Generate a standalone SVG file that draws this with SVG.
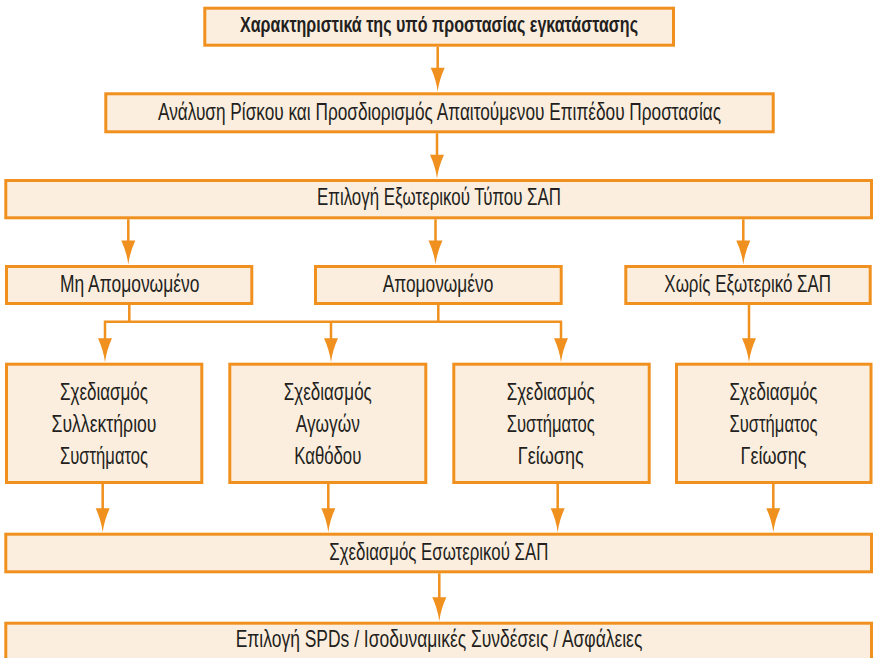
<svg xmlns="http://www.w3.org/2000/svg" xmlns:xlink="http://www.w3.org/1999/xlink" width="873" height="658" viewBox="0 0 873 658">
<style>
.box{fill:#FCEEDF;stroke:#F0901E;stroke-width:3}
.t{font-family:"Liberation Sans Narrow","Liberation Sans",Arial,sans-serif;font-size:24px;fill:#231F20;text-anchor:middle}
.tb{font-weight:bold;font-size:22px}
.ln{fill:none;stroke:#F0901E;stroke-width:2.5}
.head{fill:#F0901E;stroke:none}
</style>
<defs>
<path id="ah" class="head" d="M-7,-24 L7,-24 Q1.5,-12 0,0 Q-1.5,-12 -7,-24 Z"/>
</defs>
<rect width="873" height="658" fill="#FFFFFF"/>
<g id="n1"><rect class="box" x="204.8" y="8.2" width="468.7" height="37"/><text class="t tb" x="439" y="31.7" textLength="398" lengthAdjust="spacingAndGlyphs">Χαρακτηριστικά της υπό προστασίας εγκατάστασης</text></g>
<g id="n2"><rect class="box" x="105.8" y="93.8" width="667.4" height="38"/><text class="t" x="439.5" y="119.5" textLength="563" lengthAdjust="spacingAndGlyphs">Ανάλυση Ρίσκου και Προσδιορισμός Απαιτούμενου Επιπέδου Προστασίας</text></g>
<g id="n3"><rect class="box" x="5.8" y="180.5" width="865.7" height="37.3"/><text class="t" x="439" y="205" textLength="244" lengthAdjust="spacingAndGlyphs">Επιλογή Εξωτερικού Τύπου ΣΑΠ</text></g>
<g id="n4"><rect class="box" x="6.5" y="266.5" width="245.3" height="37"/><text class="t" x="129.7" y="291.7" textLength="139.3" lengthAdjust="spacingAndGlyphs">Μη Απομονωμένο</text></g>
<g id="n5"><rect class="box" x="315.5" y="266.5" width="245.7" height="37"/><text class="t" x="438" y="291.7" textLength="110.6" lengthAdjust="spacingAndGlyphs">Απομονωμένο</text></g>
<g id="n6"><rect class="box" x="625.8" y="266.5" width="244.4" height="37"/><text class="t" x="747.7" y="291.7" textLength="166.7" lengthAdjust="spacingAndGlyphs">Χωρίς Εξωτερικό ΣΑΠ</text></g>
<g id="n7"><rect class="box" x="6.5" y="364.2" width="195.3" height="118.3"/>
<text class="t" x="104" y="399.5" textLength="88" lengthAdjust="spacingAndGlyphs">Σχεδιασμός</text>
<text class="t" x="104" y="431.5" textLength="105" lengthAdjust="spacingAndGlyphs">Συλλεκτήριου</text>
<text class="t" x="104" y="463.5" textLength="88" lengthAdjust="spacingAndGlyphs">Συστήματος</text></g>
<g id="n8"><rect class="box" x="229.8" y="364.2" width="196" height="118.3"/>
<text class="t" x="327.8" y="399.5" textLength="88" lengthAdjust="spacingAndGlyphs">Σχεδιασμός</text>
<text class="t" x="327.8" y="431.5" textLength="64" lengthAdjust="spacingAndGlyphs">Αγωγών</text>
<text class="t" x="327.8" y="463.5" textLength="67" lengthAdjust="spacingAndGlyphs">Καθόδου</text></g>
<g id="n9"><rect class="box" x="453.8" y="364.2" width="195.4" height="118.3"/>
<text class="t" x="550.7" y="399.5" textLength="88" lengthAdjust="spacingAndGlyphs">Σχεδιασμός</text>
<text class="t" x="550.7" y="431.5" textLength="88" lengthAdjust="spacingAndGlyphs">Συστήματος</text>
<text class="t" x="550.7" y="463.5" textLength="66" lengthAdjust="spacingAndGlyphs">Γείωσης</text></g>
<g id="n10"><rect class="box" x="676.5" y="364.2" width="194.5" height="118.3"/>
<text class="t" x="773.5" y="399.5" textLength="88" lengthAdjust="spacingAndGlyphs">Σχεδιασμός</text>
<text class="t" x="773.5" y="431.5" textLength="88" lengthAdjust="spacingAndGlyphs">Συστήματος</text>
<text class="t" x="773.5" y="463.5" textLength="66" lengthAdjust="spacingAndGlyphs">Γείωσης</text></g>
<g id="n11"><rect class="box" x="5.8" y="534.2" width="865.7" height="37.6"/><text class="t" x="438.8" y="560" textLength="219" lengthAdjust="spacingAndGlyphs">Σχεδιασμός Εσωτερικού ΣΑΠ</text></g>
<g id="n12"><rect class="box" x="5.8" y="623.2" width="865.7" height="40"/><text class="t" x="439" y="646.7" textLength="406.6" lengthAdjust="spacingAndGlyphs">Επιλογή SPDs / Ισοδυναμικές Συνδέσεις / Ασφάλειες</text></g>
<g id="connectors">
<path class="ln" d="M437.7,46.7V70 M437,133.3V157 M128.3,219.3V243 M435.5,219.3V243 M743.3,219.3V243 M129.3,305V321.7 M438.3,305V321.7 M103.8,321.7H562.2 M105,321.7V340 M331,321.7V340 M561,321.7V340 M749,305V340 M102.7,484V510 M328.3,484V510 M557.7,484V510 M773.3,484V510 M439.3,573.3V599"/>
<use href="#ah" x="437.7" y="91.8"/>
<use href="#ah" x="437" y="178.8"/>
<use href="#ah" x="128.3" y="264.5"/>
<use href="#ah" x="435.5" y="264.5"/>
<use href="#ah" x="743.3" y="264.5"/>
<use href="#ah" x="105" y="362.2"/>
<use href="#ah" x="331" y="362.2"/>
<use href="#ah" x="561" y="362.2"/>
<use href="#ah" x="749" y="362.2"/>
<use href="#ah" x="102.7" y="532.2"/>
<use href="#ah" x="328.3" y="532.2"/>
<use href="#ah" x="557.7" y="532.2"/>
<use href="#ah" x="773.3" y="532.2"/>
<use href="#ah" x="439.3" y="621.2"/>
</g>
</svg>
